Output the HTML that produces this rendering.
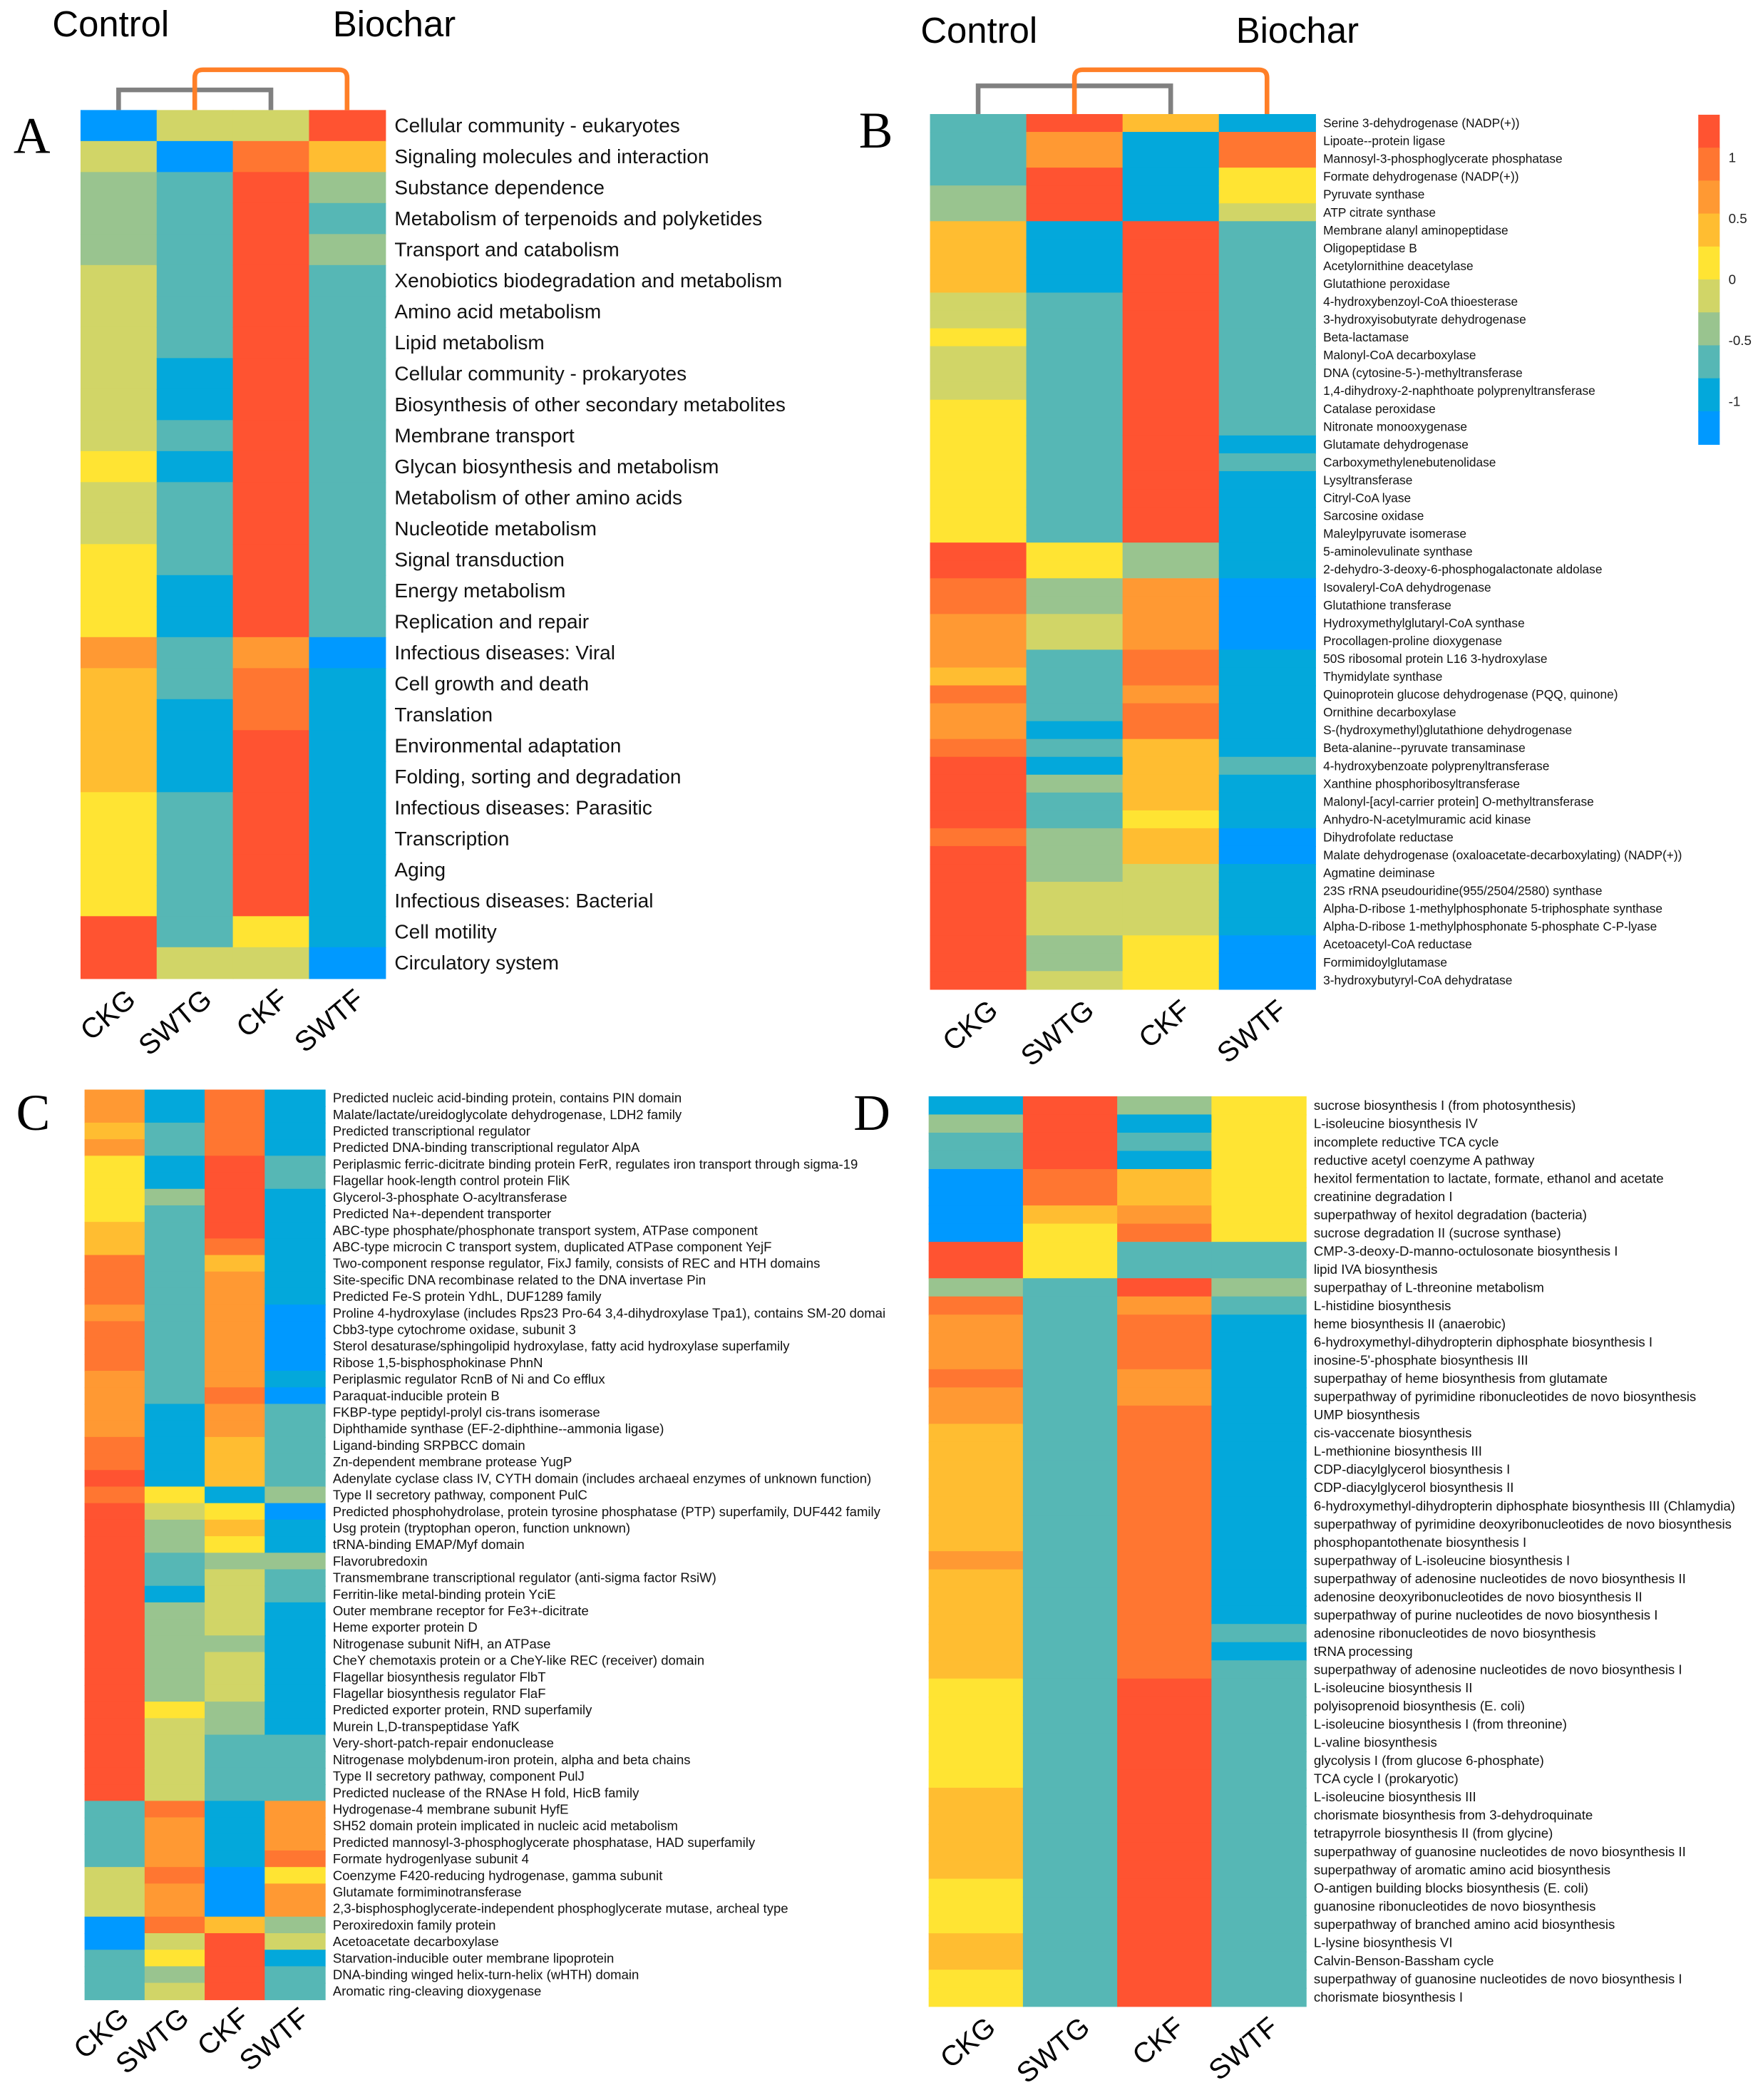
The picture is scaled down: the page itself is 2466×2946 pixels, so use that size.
<!DOCTYPE html>
<html><head><meta charset="utf-8"><style>
html,body{margin:0;padding:0;background:#fff;}
svg{display:block;}
</style></head><body>
<svg id="fig" xmlns="http://www.w3.org/2000/svg" width="2466" height="2946" viewBox="0 0 1310 1565" style="font-family:'Liberation Sans',Arial,sans-serif">
<rect x="0" y="0" width="1310" height="1565" fill="#fff"/>
</svg>
<script>
// color classes (z-score bins)
const binCodes = ['P','B','T','G','V','Y','A','L','O','R'];
const binColors = ['#0099FF','#03A8DB','#56B7B5','#99C48F','#D1D567','#FFE433','#FFBD31','#FF9933','#FF7631','#FF5331'];
const samples = ['CKG','SWTG','CKF','SWTF'];

// Panel A
const rowsA = ['Cellular community - eukaryotes','Signaling molecules and interaction','Substance dependence','Metabolism of terpenoids and polyketides','Transport and catabolism','Xenobiotics biodegradation and metabolism','Amino acid metabolism','Lipid metabolism','Cellular community - prokaryotes','Biosynthesis of other secondary metabolites','Membrane transport','Glycan biosynthesis and metabolism','Metabolism of other amino acids','Nucleotide metabolism','Signal transduction','Energy metabolism','Replication and repair','Infectious diseases: Viral','Cell growth and death','Translation','Environmental adaptation','Folding, sorting and degradation','Infectious diseases: Parasitic','Transcription','Aging','Infectious diseases: Bacterial','Cell motility','Circulatory system'];
const valsA_CKG  = 'P1V1G3V6Y1V2Y3L1A4Y4R2';
const valsA_SWTG = 'V1P1T6B2T1B1T3B2T2B3T5V1';
const valsA_CKF  = 'V1O1R15L1O2R6Y1V1';
const valsA_SWTF = 'R1A1G1T1G1T12P1B9P1';

// Panel B
const rowsB = ['Serine 3-dehydrogenase (NADP(+))','Lipoate--protein ligase','Mannosyl-3-phosphoglycerate phosphatase','Formate dehydrogenase (NADP(+))','Pyruvate synthase','ATP citrate synthase','Membrane alanyl aminopeptidase','Oligopeptidase B','Acetylornithine deacetylase','Glutathione peroxidase','4-hydroxybenzoyl-CoA thioesterase','3-hydroxyisobutyrate dehydrogenase','Beta-lactamase','Malonyl-CoA decarboxylase','DNA (cytosine-5-)-methyltransferase','1,4-dihydroxy-2-naphthoate polyprenyltransferase','Catalase peroxidase','Nitronate monooxygenase','Glutamate dehydrogenase','Carboxymethylenebutenolidase','Lysyltransferase','Citryl-CoA lyase','Sarcosine oxidase','Maleylpyruvate isomerase','5-aminolevulinate synthase','2-dehydro-3-deoxy-6-phosphogalactonate aldolase','Isovaleryl-CoA dehydrogenase','Glutathione transferase','Hydroxymethylglutaryl-CoA synthase','Procollagen-proline dioxygenase','50S ribosomal protein L16 3-hydroxylase','Thymidylate synthase','Quinoprotein glucose dehydrogenase (PQQ, quinone)','Ornithine decarboxylase','S-(hydroxymethyl)glutathione dehydrogenase','Beta-alanine--pyruvate transaminase','4-hydroxybenzoate polyprenyltransferase','Xanthine phosphoribosyltransferase','Malonyl-[acyl-carrier protein] O-methyltransferase','Anhydro-N-acetylmuramic acid kinase','Dihydrofolate reductase','Malate dehydrogenase (oxaloacetate-decarboxylating) (NADP(+))','Agmatine deiminase','23S rRNA pseudouridine(955/2504/2580) synthase','Alpha-D-ribose 1-methylphosphonate 5-triphosphate synthase','Alpha-D-ribose 1-methylphosphonate 5-phosphate C-P-lyase','Acetoacetyl-CoA reductase','Formimidoylglutamase','3-hydroxybutyryl-CoA dehydratase'];
const valsB_CKG  = 'T4G2A4V2Y1V3Y8R2O2L3A1O1L2O1R4O1R8';
const valsB_SWTG = 'R1L2R3B4T14Y2G2V2T4B1T1B1G1T2G3V3G2V1';
const valsB_CKF  = 'A1B5R18G2L4O2L1O2A4Y1A2V4Y3';
const valsB_SWTF = 'B1O2Y2V1T12B1T1B6P4B6T1B3P2B4P3';

// Panel C
const rowsC = ['Predicted nucleic acid-binding protein, contains PIN domain','Malate/lactate/ureidoglycolate dehydrogenase, LDH2 family','Predicted transcriptional regulator','Predicted DNA-binding transcriptional regulator AlpA','Periplasmic ferric-dicitrate binding protein FerR, regulates iron transport through sigma-19','Flagellar hook-length control protein FliK','Glycerol-3-phosphate O-acyltransferase','Predicted Na+-dependent transporter','ABC-type phosphate/phosphonate transport system, ATPase component','ABC-type microcin C transport system, duplicated ATPase component YejF','Two-component response regulator, FixJ family, consists of REC and HTH domains','Site-specific DNA recombinase related to the DNA invertase Pin','Predicted Fe-S protein YdhL, DUF1289 family','Proline 4-hydroxylase (includes Rps23 Pro-64 3,4-dihydroxylase Tpa1), contains SM-20 domai','Cbb3-type cytochrome oxidase, subunit 3','Sterol desaturase/sphingolipid hydroxylase, fatty acid hydroxylase superfamily','Ribose 1,5-bisphosphokinase PhnN','Periplasmic regulator RcnB of Ni and Co efflux','Paraquat-inducible protein B','FKBP-type peptidyl-prolyl cis-trans isomerase','Diphthamide synthase (EF-2-diphthine--ammonia ligase)','Ligand-binding SRPBCC domain','Zn-dependent membrane protease YugP','Adenylate cyclase class IV, CYTH domain (includes archaeal enzymes of unknown function)','Type II secretory pathway, component PulC','Predicted phosphohydrolase, protein tyrosine phosphatase (PTP) superfamily, DUF442 family','Usg protein (tryptophan operon, function unknown)','tRNA-binding EMAP/Myf domain','Flavorubredoxin','Transmembrane transcriptional regulator (anti-sigma factor RsiW)','Ferritin-like metal-binding protein YciE','Outer membrane receptor for Fe3+-dicitrate','Heme exporter protein D','Nitrogenase subunit NifH, an ATPase','CheY chemotaxis protein or a CheY-like REC (receiver) domain','Flagellar biosynthesis regulator FlbT','Flagellar biosynthesis regulator FlaF','Predicted exporter protein, RND superfamily','Murein L,D-transpeptidase YafK','Very-short-patch-repair endonuclease','Nitrogenase molybdenum-iron protein, alpha and beta chains','Type II secretory pathway, component PulJ','Predicted nuclease of the RNAse H fold, HicB family','Hydrogenase-4 membrane subunit HyfE','SH52 domain protein implicated in nucleic acid metabolism','Predicted mannosyl-3-phosphoglycerate phosphatase, HAD superfamily','Formate hydrogenlyase subunit 4','Coenzyme F420-reducing hydrogenase, gamma subunit','Glutamate formiminotransferase','2,3-bisphosphoglycerate-independent phosphoglycerate mutase, archeal type','Peroxiredoxin family protein','Acetoacetate decarboxylase','Starvation-inducible outer membrane lipoprotein','DNA-binding winged helix-turn-helix (wHTH) domain','Aromatic ring-cleaving dioxygenase'];
const valsC_CKG  = 'L2A1L1Y4A2O3L1O3L4O2R1O1R18T4V3P2T3';
const valsC_SWTG = 'B2T2B2G1T12B5Y1V1G2T2B1G6Y1V5O1L3O1L2O1V1Y1G1V1';
const valsC_CKF  = 'O4R5O1A1L7O1L2A3B1Y1A1Y1G1V4G1V3G2T4B4P3A1R4';
const valsC_SWTF = 'B4T2B7P4B1P1T5G1P1B2G1T2B8T4L3O1Y1L2G1V1B1T2';

// Panel D
const rowsD = ['sucrose biosynthesis I (from photosynthesis)','L-isoleucine biosynthesis IV','incomplete reductive TCA cycle','reductive acetyl coenzyme A pathway','hexitol fermentation to lactate, formate, ethanol and acetate','creatinine degradation I','superpathway of hexitol degradation (bacteria)','sucrose degradation II (sucrose synthase)','CMP-3-deoxy-D-manno-octulosonate biosynthesis I','lipid IVA biosynthesis','superpathay of L-threonine metabolism','L-histidine biosynthesis','heme biosynthesis II (anaerobic)','6-hydroxymethyl-dihydropterin diphosphate biosynthesis I','inosine-5\'-phosphate biosynthesis III','superpathay of heme biosynthesis from glutamate','superpathway of pyrimidine ribonucleotides de novo biosynthesis','UMP biosynthesis','cis-vaccenate biosynthesis','L-methionine biosynthesis III','CDP-diacylglycerol biosynthesis I','CDP-diacylglycerol biosynthesis II','6-hydroxymethyl-dihydropterin diphosphate biosynthesis III (Chlamydia)','superpathway of pyrimidine deoxyribonucleotides de novo biosynthesis','phosphopantothenate biosynthesis I','superpathway of L-isoleucine biosynthesis I','superpathway of adenosine nucleotides de novo biosynthesis II','adenosine deoxyribonucleotides de novo biosynthesis II','superpathway of purine nucleotides de novo biosynthesis I','adenosine ribonucleotides de novo biosynthesis','tRNA processing','superpathway of adenosine nucleotides de novo biosynthesis I','L-isoleucine biosynthesis II','polyisoprenoid biosynthesis (E. coli)','L-isoleucine biosynthesis I (from threonine)','L-valine biosynthesis','glycolysis I (from glucose 6-phosphate)','TCA cycle I (prokaryotic)','L-isoleucine biosynthesis III','chorismate biosynthesis from 3-dehydroquinate','tetrapyrrole biosynthesis II (from glycine)','superpathway of guanosine nucleotides de novo biosynthesis II','superpathway of aromatic amino acid biosynthesis','O-antigen building blocks biosynthesis (E. coli)','guanosine ribonucleotides de novo biosynthesis','superpathway of branched amino acid biosynthesis','L-lysine biosynthesis VI','Calvin-Benson-Bassham cycle','superpathway of guanosine nucleotides de novo biosynthesis I','chorismate biosynthesis I'];
const valsD_CKG  = 'B1G1T2P4R2G1O1L3O1L2A7L1A6Y6A5Y3A2Y2';
const valsD_SWTG = 'R4O2A1Y3T40';
const valsD_CKF  = 'G1B1T1B1A2L1O1T2R1L1O3L2O15R18';
const valsD_SWTF = 'Y8T2G1T1B17T1B1T19';

// legend
const legendTicks = [1, 0.5, 0, -0.5, -1];
</script>
<script>
const NS='http://www.w3.org/2000/svg';
const svg=document.getElementById('fig');
function mk(tag,attrs,parent){const e=document.createElementNS(NS,tag);for(const k in attrs)e.setAttribute(k,attrs[k]);(parent||svg).appendChild(e);return e;}
function expand(s){const out=[];const re=/([A-Z])(\d+)/g;let m;while((m=re.exec(s))){for(let i=0;i<+m[2];i++)out.push(m[1]);}return out;}
function color(code){return binColors[binCodes.indexOf(code)];}

function panel(cfg){
  const g=mk('g',{});
  
  
  const n=cfg.rows.length, cols=cfg.vals.map(expand);
  const cw=(cfg.x1-cfg.x0)/4, rh=(cfg.y1-cfg.y0)/n;
  const xs=c=>cfg.x0+c*cw, ys=r=>cfg.y0+r*rh;
  cols.forEach((col,c)=>{
    col.forEach((code,r)=>{
      const rc=mk('rect',{x:xs(c),y:ys(r),width:cw+0.6,height:rh+0.6,fill:color(code)},g);
      
      
    });
  });
  cfg.rows.forEach((lab,r)=>{
    const t=mk('text',{x:cfg.x1+cfg.lx,y:ys(r)+rh/2,'font-size':cfg.fs,'dominant-baseline':'central',fill:'#111'},g);
    t.textContent=lab;
    
    
  });
  samples.forEach((s,c)=>{
    const cx=xs(c)+cw/2+cfg.cdx, cy=cfg.y1+cfg.cdy;
    const t=mk('text',{x:cx,y:cy,'font-size':cfg.cfs,'text-anchor':'end',transform:`rotate(-40 ${cx} ${cy})`,fill:'#000'},g);
    t.textContent=s;
    
    
  });
  const L=mk('text',{x:cfg.Lx,y:cfg.Ly,'font-size':38,style:"font-family:'Liberation Serif',serif",fill:'#000'},g);
  L.textContent=cfg.id;
  
  
  if(cfg.dendro){
    const d=cfg.dendro, cx=c=>xs(c)+cw/2;
    const p1=mk('path',{d:`M${cx(0)},${cfg.y0} V${d.g} H${cx(2)} V${cfg.y0}`,fill:'none',stroke:'#808080','stroke-width':3.5},g);
    
    
    const p2=mk('path',{d:`M${cx(1)},${cfg.y0} V${d.o+6} Q${cx(1)},${d.o} ${cx(1)+6},${d.o} H${cx(3)-6} Q${cx(3)},${d.o} ${cx(3)},${d.o+6} V${cfg.y0}`,fill:'none',stroke:'#FF7F27','stroke-width':3.5},g);
    
    
    const t1=mk('text',{x:d.cx,y:d.ty,'font-size':27,fill:'#000'},g);t1.textContent='Control';
    
    
    const t2=mk('text',{x:d.bx,y:d.ty,'font-size':27,fill:'#000'},g);t2.textContent='Biochar';
    
    
  }
}

panel({id:'A',rows:rowsA,vals:[valsA_CKG,valsA_SWTG,valsA_CKF,valsA_SWTF],x0:60,x1:287,y0:82,y1:729,lx:7,fs:14.9,cfs:21,cdx:14,cdy:18,Lx:10,Ly:114,
  dendro:{g:67,o:52,cx:39,bx:248,ty:27}});
panel({id:'B',rows:rowsB,vals:[valsB_CKG,valsB_SWTG,valsB_CKF,valsB_SWTF],x0:693,x1:980,y0:85,y1:737,lx:6,fs:9.2,cfs:21,cdx:16,cdy:18,Lx:640,Ly:110,
  dendro:{g:64,o:52,cx:686,bx:921,ty:32}});
panel({id:'C',rows:rowsC,vals:[valsC_CKG,valsC_SWTG,valsC_CKF,valsC_SWTF],x0:63,x1:242,y0:812,y1:1490,lx:6,fs:9.85,cfs:21,cdx:12,cdy:16,Lx:12,Ly:842});
panel({id:'D',rows:rowsD,vals:[valsD_CKG,valsD_SWTG,valsD_CKF,valsD_SWTF],x0:692,x1:973,y0:817,y1:1495,lx:6,fs:9.9,cfs:21,cdx:16,cdy:18,Lx:636,Ly:842});

// legend for B
(function(){
  const g=mk('g',{});
  
  
  const lx=1265.5,lw=16,top=85.5,bot=331;
  const vmax=1.35,vmin=-1.35;
  const ly=v=>top+(vmax-v)/(vmax-vmin)*(bot-top);
  const h=(bot-top)/binColors.length;
  for(let i=0;i<binColors.length;i++){
    const r=mk('rect',{x:lx,y:top+i*h,width:lw,height:h+0.5,fill:binColors[binColors.length-1-i]},g);
    
    
  }
  legendTicks.forEach(v=>{
    const t=mk('text',{x:1288,y:ly(v),'font-size':10,'dominant-baseline':'central',fill:'#222'},g);
    t.textContent=String(v);
    
    
  });
})();
</script>
</body></html>
